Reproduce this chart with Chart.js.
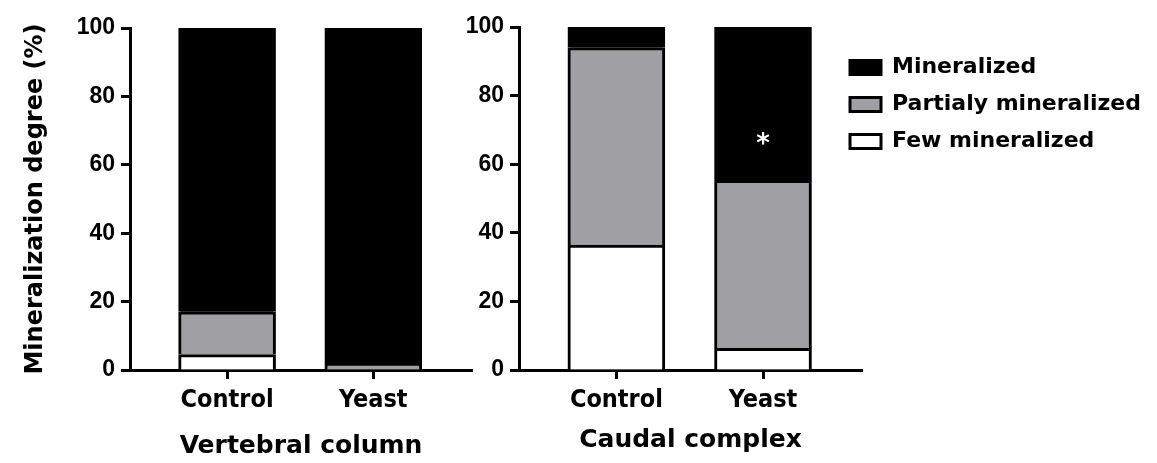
<!DOCTYPE html>
<html>
<head>
<meta charset="utf-8">
<script src="https://cdn.jsdelivr.net/npm/chart.js@4.4.0/dist/chart.umd.min.js"></script>
<style>
  body { margin: 0; background: #fff; overflow: hidden; }
  #wrap { position: relative; width: 1157px; height: 463px; }
  canvas { position: absolute; top: 0; }
  #vertebral-chart { left: 0; }
  #caudal-chart { left: 440px; }
</style>
</head>
<body>
<div id="wrap">
  <canvas id="vertebral-chart" width="480" height="463"></canvas>
  <canvas id="caudal-chart" width="717" height="463"></canvas>
</div>

<script>
var groups = ['Control', 'Yeast'];
var seriesNames = ['Few mineralized', 'Partialy mineralized', 'Mineralized'];

// percentages, stacked bottom to top: few, partial, mineralized
var vertebralFew = [4.5, 0];
var vertebralPartial = [12.5, 2];
var vertebralMineral = [83, 98];

var caudalFew = [36.4, 6.3];
var caudalPartial = [57.6, 49.0];
var caudalMineral = [6.0, 44.7];

// significance marks over the caudal bars, and the level they sit at
var caudalMarks = ['', '*'];
var markLevel = 67.5;

var fills = ['#ffffff', '#a0a0a4', '#000000'];

function points(values) {
  return values.map(function (v, i) { return { x: i + 1, y: v }; });
}

function makeDatasets(few, partial, mineral) {
  return [few, partial, mineral].map(function (vals, k) {
    return {
      label: seriesNames[k],
      data: points(vals),
      backgroundColor: fills[k],
      borderColor: '#000',
      borderWidth: 3,
      barThickness: 97
    };
  });
}

function scalesFor(xTitle, titlePad, yWidth, showYTitle) {
  return {
    x: {
      type: 'linear', min: 0.336, max: 2.675, stacked: true, offset: false,
      afterBuildTicks: function (s) {
        s.ticks = groups.map(function (g, i) { return { value: i + 1 }; });
      },
      afterFit: function (s) { s.height = 93; },
      ticks: {
        autoSkip: false, maxRotation: 0, padding: 6, color: '#000',
        font: { family: 'DejaVu Sans Condensed', weight: 'bold', size: 25 },
        callback: function (v) { return groups[v - 1] || ''; }
      },
      grid: { offset: false, drawOnChartArea: false, tickLength: 9, tickWidth: 3, tickColor: '#000' },
      border: { color: '#000', width: 3 },
      title: {
        display: true, text: xTitle, color: '#000',
        font: { family: 'DejaVu Sans', weight: 'bold', size: 25 },
        padding: { top: 0, bottom: titlePad }
      }
    },
    y: {
      min: 0, max: 100, stacked: true,
      afterFit: function (s) { s.width = yWidth; },
      ticks: {
        stepSize: 20, padding: 6, color: '#000',
        font: { family: 'Liberation Sans', weight: 'bold', size: 23 }
      },
      grid: { drawOnChartArea: false, tickLength: 9, tickWidth: 3, tickColor: '#000' },
      border: { color: '#000', width: 3 },
      title: {
        display: showYTitle, text: 'Mineralization degree (%)', color: '#000',
        font: { family: 'DejaVu Sans', weight: 'bold', size: 24 },
        padding: { top: 21, bottom: 0 }
      }
    }
  };
}

new Chart(document.getElementById('vertebral-chart'), {
  type: 'bar',
  data: { datasets: makeDatasets(vertebralFew, vertebralPartial, vertebralMineral) },
  options: {
    responsive: false,
    animation: false,
    layout: { padding: { top: 28, right: 8, left: 0, bottom: 0 } },
    plugins: { legend: { display: false }, tooltip: { enabled: false } },
    scales: scalesFor('Vertebral column', 2, 130, true)
  }
});

// pull the legend up against the plot and nudge it left over the axis end
var legendSpot = {
  id: 'legendSpot',
  afterLayout: function (chart) {
    chart.legend.left = chart.chartArea.right - 27;
    chart.legend.top = chart.chartArea.top + 14.5;
  }
};

var starMarks = {
  id: 'starMarks',
  afterDatasetsDraw: function (chart) {
    var ctx = chart.ctx, xs = chart.scales.x, ys = chart.scales.y;
    ctx.save();
    ctx.fillStyle = '#fff';
    ctx.font = 'bold 26px "DejaVu Sans"';
    ctx.textAlign = 'center';
    ctx.textBaseline = 'alphabetic';
    caudalMarks.forEach(function (m, i) {
      if (m) ctx.fillText(m, xs.getPixelForValue(i + 1), ys.getPixelForValue(markLevel) + 14);
    });
    ctx.restore();
  }
};

new Chart(document.getElementById('caudal-chart'), {
  type: 'bar',
  data: { datasets: makeDatasets(caudalFew, caudalPartial, caudalMineral) },
  options: {
    responsive: false,
    animation: false,
    layout: { padding: { top: 27, right: 0, left: 0, bottom: 0 } },
    plugins: {
      tooltip: { enabled: false },
      legend: {
        position: 'right', align: 'start', reverse: true, maxWidth: 295,
        labels: {
          boxWidth: 31, boxHeight: 14, padding: 15, color: '#000',
          font: { family: 'DejaVu Sans', weight: 'bold', size: 22 }
        }
      }
    },
    scales: scalesFor('Caudal complex', 8, 79, false)
  },
  plugins: [legendSpot, starMarks]
});
</script>
</body>
</html>
